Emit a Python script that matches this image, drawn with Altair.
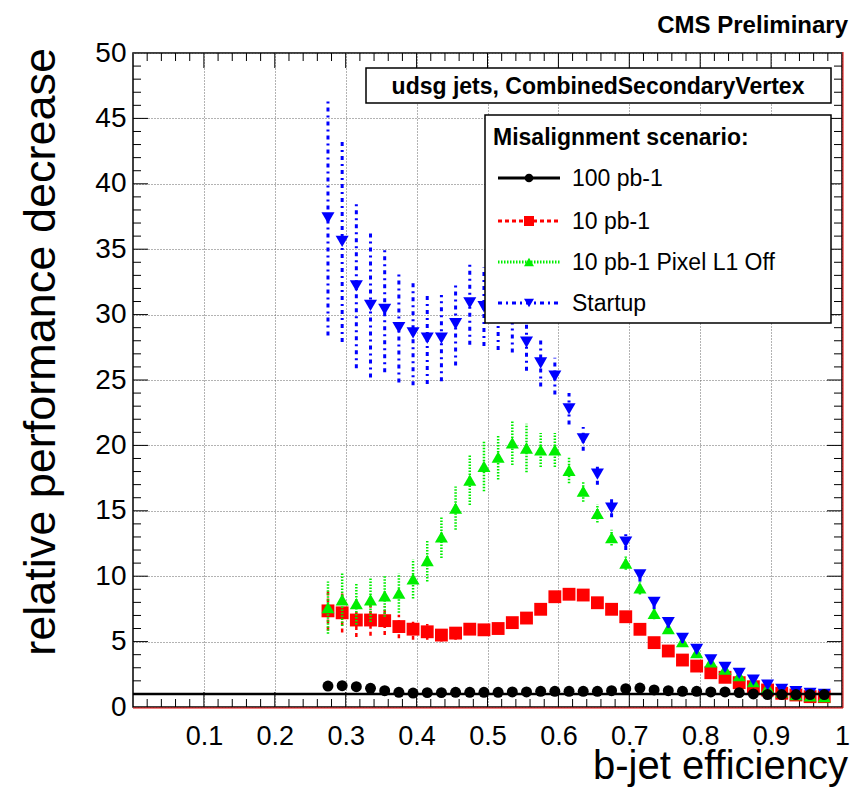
import altair as alt
import pandas as pd

# ---------------- data ----------------
eff = [0.275, 0.295, 0.315, 0.335, 0.355, 0.375, 0.395, 0.415, 0.435, 0.455,
       0.475, 0.495, 0.515, 0.535, 0.555, 0.575, 0.595, 0.615, 0.635, 0.655,
       0.675, 0.695, 0.715, 0.735, 0.755, 0.775, 0.795, 0.815, 0.835, 0.855,
       0.875, 0.895, 0.915, 0.935, 0.955, 0.975]

hundred = [1.60, 1.63, 1.55, 1.43, 1.25, 1.12, 1.07, 1.10, 1.10, 1.12,
           1.12, 1.12, 1.12, 1.15, 1.15, 1.20, 1.20, 1.20, 1.20, 1.20,
           1.25, 1.40, 1.45, 1.30, 1.25, 1.20, 1.20, 1.15, 1.15, 1.10,
           1.00, 0.95, 0.95, 0.95, 0.95, 0.95]
hundred_err = [0.15, 0.15, 0.15, 0.12, 0.12, 0.1, 0.1, 0.1, 0.1, 0.1,
               0.1, 0.1, 0.1, 0.1, 0.1, 0.1, 0.1, 0.1, 0.1, 0.1,
               0.1, 0.1, 0.1, 0.1, 0.1, 0.1, 0.1, 0.1, 0.1, 0.1,
               0.1, 0.1, 0.1, 0.1, 0.1, 0.1]

ten = [7.35, 7.20, 6.65, 6.65, 6.60, 6.15, 5.95, 5.75, 5.50, 5.65,
       5.95, 5.90, 6.00, 6.45, 6.80, 7.47, 8.43, 8.62, 8.56, 7.97,
       7.47, 6.90, 5.94, 4.92, 4.28, 3.59, 3.13, 2.62, 2.27, 1.86,
       1.55, 1.30, 1.05, 0.92, 0.79, 0.79]
ten_err = [1.5, 1.5, 1.3, 1.2, 1.1, 0.9, 0.8, 0.6, 0.5, 0.5,
           0.45, 0.4, 0.4, 0.35, 0.35, 0.3, 0.3, 0.3, 0.3, 0.25,
           0.25, 0.25, 0.2, 0.2, 0.2, 0.15, 0.15, 0.15, 0.1, 0.1,
           0.1, 0.1, 0.1, 0.1, 0.1, 0.1]

pixoff = [7.6, 8.2, 7.9, 8.2, 8.5, 8.7, 9.8, 11.2, 13.0, 15.2,
          17.35, 18.4, 19.1, 20.2, 19.8, 19.65, 19.65, 18.1, 16.5, 14.8,
          12.95, 11.0, 9.1, 7.15, 6.0, 5.0, 4.15, 3.45, 2.9, 2.4,
          1.95, 1.5, 1.15, 0.95, 0.85, 0.8]
pixoff_err = [2.0, 2.0, 1.6, 1.7, 1.6, 1.5, 1.5, 1.6, 1.6, 1.65,
              1.9, 1.9, 1.7, 1.7, 1.85, 1.3, 1.3, 1.0, 0.8, 0.7,
              0.6, 0.5, 0.5, 0.45, 0.4, 0.35, 0.3, 0.3, 0.25, 0.25,
              0.2, 0.2, 0.15, 0.15, 0.1, 0.1]

startup = [37.4, 35.6, 32.2, 30.7, 30.4, 29.0, 28.6, 28.2, 28.2, 29.3,
           30.9, 30.6, 30.2, 29.9, 27.9, 26.3, 25.3, 22.8, 20.5, 17.8,
           15.2, 12.6, 10.1, 8.0, 6.45, 5.25, 4.4, 3.6, 3.03, 2.57,
           2.06, 1.68, 1.35, 1.17, 1.04, 0.97]
startup_err = [9.0, 7.7, 6.3, 5.5, 4.8, 4.2, 4.0, 3.5, 3.3, 3.2,
               3.2, 3.0, 2.9, 2.8, 2.2, 1.8, 1.4, 1.2, 0.9, 0.8,
               0.7, 0.6, 0.5, 0.5, 0.4, 0.35, 0.3, 0.3, 0.25, 0.25,
               0.2, 0.2, 0.15, 0.15, 0.1, 0.1]

series_names = ["100 pb-1", "10 pb-1", "10 pb-1 Pixel L1 Off", "Startup"]
series_vals = {"100 pb-1": (hundred, hundred_err), "10 pb-1": (ten, ten_err),
               "10 pb-1 Pixel L1 Off": (pixoff, pixoff_err), "Startup": (startup, startup_err)}

reference_level = [1.0]

x_label_vals = [0.1, 0.2, 0.3, 0.4, 0.5, 0.6, 0.7, 0.8, 0.9, 1.0]
x_major_ticks = [0.1, 0.2, 0.3, 0.4, 0.5, 0.6, 0.7, 0.8, 0.9]
x_minor_ticks = [round(i * 0.02, 2) for i in range(1, 50) if i % 5 != 0]
y_label_vals = [0, 5, 10, 15, 20, 25, 30, 35, 40, 45, 50]
y_major_ticks = [5, 10, 15, 20, 25, 30, 35, 40, 45]
y_minor_ticks = [i for i in range(1, 50) if i % 5 != 0]

# ---------------- styling ----------------
FONT = "Liberation Sans"
W, H = 709, 654

styles = {
    "100 pb-1": dict(color="#000000", shape="circle", size=120, lsize=75, dash=None, ew=2.5),
    "10 pb-1": dict(color="#ff0000", shape="square", size=165, lsize=100, dash=[4, 3], ew=2.5),
    "10 pb-1 Pixel L1 Off": dict(color="#00ee00", shape="triangle-up", size=170, lsize=100, dash=[1.5, 1.5], ew=2.5),
    "Startup": dict(color="#0000ff", shape="triangle-down", size=170, lsize=100, dash=[4, 4, 2, 4], ew=3),
}

xs = alt.Scale(domain=[0, 1], nice=False, zero=False)
ys = alt.Scale(domain=[0, 50], nice=False, zero=False)

x_axis = alt.Axis(values=x_label_vals, format="~g", title=None, grid=True, gridDash=[1, 2],
                  gridColor="#666666", gridWidth=1, ticks=False, domain=False,
                  labelFont=FONT, labelFontSize=27, labelPadding=16, labelFlush=False,
                  labelColor="black", labelBaseline="top")
y_axis = alt.Axis(values=y_label_vals, title=None, grid=True, gridDash=[1, 2],
                  gridColor="#666666", gridWidth=1, ticks=False, domain=False,
                  labelFont=FONT, labelFontSize=28, labelPadding=7, labelFlush=False,
                  labelColor="black", labelBaseline="middle")


def X(field):
    return alt.X(f"{field}:Q", scale=xs, axis=x_axis)


def Y(field):
    return alt.Y(f"{field}:Q", scale=ys, axis=y_axis)


dummy = pd.DataFrame({"d": [0]})
layers = []

# ticks (inside the frame, on all four sides)
for vals, ln in ((x_minor_ticks, 8), (x_major_ticks, 15)):
    tdf = pd.DataFrame({"x": vals})
    layers.append(alt.Chart(tdf).mark_rule(color="black", strokeWidth=1).encode(
        x=X("x"), y=alt.value(H), y2=alt.value(H - ln)))
    layers.append(alt.Chart(tdf).mark_rule(color="black", strokeWidth=1).encode(
        x=X("x"), y=alt.value(0), y2=alt.value(ln)))
for vals, ln in ((y_minor_ticks, 8), (y_major_ticks, 15)):
    tdf = pd.DataFrame({"y": vals})
    layers.append(alt.Chart(tdf).mark_rule(color="black", strokeWidth=1).encode(
        y=Y("y"), x=alt.value(0), x2=alt.value(ln)))
    layers.append(alt.Chart(tdf).mark_rule(color="black", strokeWidth=1).encode(
        y=Y("y"), x=alt.value(W), x2=alt.value(W - ln)))


def series_layers(name):
    vals, errs = series_vals[name]
    st = styles[name]
    df = pd.DataFrame({"x": eff, "y": vals,
                       "lo": [v - e for v, e in zip(vals, errs)],
                       "hi": [v + e for v, e in zip(vals, errs)]})
    rule_kw = dict(color=st["color"], strokeWidth=st["ew"])
    if st["dash"]:
        rule_kw["strokeDash"] = st["dash"]
    err = alt.Chart(df).mark_rule(**rule_kw).encode(x=X("x"), y=Y("lo"), y2="hi:Q")
    pts = alt.Chart(df).mark_point(shape=st["shape"], filled=True, size=st["size"],
                                   color=st["color"], opacity=1, strokeWidth=0).encode(
        x=X("x"), y=Y("y"))
    return [err, pts]


for name in ["10 pb-1", "10 pb-1 Pixel L1 Off", "Startup"]:
    layers += series_layers(name)

# reference line at 1
layers.append(alt.Chart(pd.DataFrame({"y": reference_level})).mark_rule(
    color="black", strokeWidth=2.5).encode(y=Y("y"), x=alt.value(0), x2=alt.value(W)))
layers += series_layers("100 pb-1")

# red frame lines (ROOT style)
layers.append(alt.Chart(dummy).mark_rule(color="#e00000", strokeWidth=1).encode(
    x=alt.value(0), x2=alt.value(W + 1), y=alt.value(H + 1)))
layers.append(alt.Chart(dummy).mark_rule(color="#e00000", strokeWidth=1).encode(
    x=alt.value(W + 1), y=alt.value(-1), y2=alt.value(H + 1)))

# title box
layers.append(alt.Chart(dummy).mark_rect(fill="white", stroke="black", strokeWidth=1.5).encode(
    x=alt.value(233), x2=alt.value(698), y=alt.value(15), y2=alt.value(50)))
layers.append(alt.Chart(dummy).mark_text(
    text="udsg jets, CombinedSecondaryVertex", font=FONT, fontSize=23, fontWeight="bold",
    align="center", baseline="alphabetic", color="black").encode(
    x=alt.value(465), y=alt.value(41)))

# legend
layers.append(alt.Chart(dummy).mark_rect(fill="white", stroke="black", strokeWidth=1.5).encode(
    x=alt.value(352), x2=alt.value(698), y=alt.value(62), y2=alt.value(270)))
layers.append(alt.Chart(dummy).mark_text(
    text="Misalignment scenario:", font=FONT, fontSize=23, fontWeight="bold",
    align="left", baseline="alphabetic", color="black").encode(
    x=alt.value(360), y=alt.value(92)))
legend_rows = [125, 168, 209, 250]
for name, ly in zip(series_names, legend_rows):
    st = styles[name]
    rk = dict(color=st["color"], strokeWidth=3)
    if st["dash"]:
        rk["strokeDash"] = st["dash"]
    layers.append(alt.Chart(dummy).mark_rule(**rk).encode(
        x=alt.value(365), x2=alt.value(427), y=alt.value(ly)))
    layers.append(alt.Chart(dummy).mark_point(shape=st["shape"], filled=True, size=st["lsize"],
                                              color=st["color"], opacity=1, strokeWidth=0).encode(
        x=alt.value(396), y=alt.value(ly)))
    layers.append(alt.Chart(dummy).mark_text(
        text=name, font=FONT, fontSize=23, align="left", baseline="alphabetic",
        color="black").encode(x=alt.value(439), y=alt.value(ly + 8)))

# titles and label
layers.append(alt.Chart(dummy).mark_text(
    text="CMS Preliminary", font=FONT, fontSize=24, fontWeight="bold",
    align="right", baseline="alphabetic", color="black").encode(
    x=alt.value(715), y=alt.value(-20)))
layers.append(alt.Chart(dummy).mark_text(
    text="b-jet efficiency", font=FONT, fontSize=40,
    align="right", baseline="alphabetic", color="black").encode(
    x=alt.value(715), y=alt.value(726)))
layers.append(alt.Chart(dummy).mark_text(
    text="relative performance decrease", font=FONT, fontSize=45, angle=270,
    align="right", baseline="alphabetic", color="black").encode(
    x=alt.value(-78), y=alt.value(-5)))

chart = alt.layer(*layers).properties(
    width=W, height=H,
    padding={"left": 125, "top": 45, "right": 8, "bottom": 82},
    autosize=alt.AutoSizeParams(type="none"),
    background="white",
).configure_view(stroke="black", strokeWidth=1.5)

chart.save("out.html", embed_options={"renderer": "svg", "actions": False})
